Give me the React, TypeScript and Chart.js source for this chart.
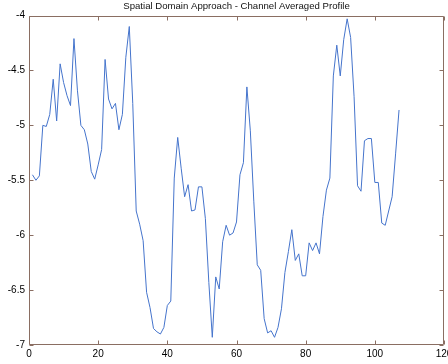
import React, { useEffect, useRef } from "react";
import { Chart, registerables } from "chart.js";

Chart.register(...registerables);

const TITLE = "Spatial Domain Approach - Channel Averaged Profile";

const sampleIndex = [
  1, 2, 3, 4, 5, 6, 7, 8, 9, 10, 11, 12, 13, 14, 15, 16, 17, 18, 19, 20,
  21, 22, 23, 24, 25, 26, 27, 28, 29, 30, 31, 32, 33, 34, 35, 36, 37, 38, 39, 40,
  41, 42, 43, 44, 45, 46, 47, 48, 49, 50, 51, 52, 53, 54, 55, 56, 57, 58, 59, 60,
  61, 62, 63, 64, 65, 66, 67, 68, 69, 70, 71, 72, 73, 74, 75, 76, 77, 78, 79, 80,
  81, 82, 83, 84, 85, 86, 87, 88, 89, 90, 91, 92, 93, 94, 95, 96, 97, 98, 99, 100,
  101, 102, 103, 104, 105, 106, 107,
];

const profileValues = [
  -5.45, -5.5, -5.46, -5.0, -5.01, -4.9, -4.58, -4.96, -4.44, -4.61,
  -4.73, -4.82, -4.21, -4.68, -5.0, -5.04, -5.17, -5.42, -5.49, -5.36,
  -5.22, -4.4, -4.76, -4.85, -4.8, -5.04, -4.9, -4.38, -4.1, -4.8,
  -5.78, -5.9, -6.05, -6.52, -6.66, -6.85, -6.88, -6.9, -6.84, -6.64,
  -6.6, -5.48, -5.11, -5.39, -5.65, -5.54, -5.78, -5.77, -5.56, -5.56,
  -5.85, -6.43, -6.93, -6.38, -6.49, -6.06, -5.91, -6.0, -5.98, -5.88,
  -5.45, -5.34, -4.65, -5.05, -5.69, -6.27, -6.32, -6.76, -6.89, -6.87,
  -6.93, -6.84, -6.67, -6.34, -6.15, -5.95, -6.23, -6.17, -6.37, -6.37,
  -6.07, -6.14, -6.07, -6.17, -5.83, -5.59, -5.48, -4.55, -4.27, -4.55,
  -4.22, -4.03, -4.2, -4.74, -5.55, -5.6, -5.14, -5.12, -5.12, -5.52,
  -5.52, -5.89, -5.91, -5.78, -5.65, -5.26, -4.86,
];

const xTickValues = [0, 20, 40, 60, 80, 100, 120];
const yTickValues = [-7, -6.5, -6, -5.5, -5, -4.5, -4];

const AXIS_COLOR = "#8a6e62";
const LINE_COLOR = "#4574cc";
const FONT = "'Liberation Sans', Arial, Helvetica, sans-serif";

const boxPlugin = {
  id: "matlabBox",
  afterDraw(chart: any) {
    const { ctx, chartArea: a, scales } = chart;
    const tl = 4;
    ctx.save();
    ctx.strokeStyle = AXIS_COLOR;
    ctx.lineWidth = 1;
    const L = Math.round(a.left) + 0.5;
    const R = Math.round(a.right) - 0.5;
    const T = Math.round(a.top) + 0.5;
    const B = Math.round(a.bottom) - 0.5;
    ctx.beginPath();
    ctx.rect(L, T, R - L, B - T);
    scales.x.ticks.forEach((t: any) => {
      const px = Math.round(scales.x.getPixelForValue(t.value)) + 0.5;
      ctx.moveTo(px, B);
      ctx.lineTo(px, B - tl);
      ctx.moveTo(px, T);
      ctx.lineTo(px, T + tl);
    });
    scales.y.ticks.forEach((t: any) => {
      const py = Math.round(scales.y.getPixelForValue(t.value)) + 0.5;
      ctx.moveTo(L, py);
      ctx.lineTo(L + tl, py);
      ctx.moveTo(R, py);
      ctx.lineTo(R - tl, py);
    });
    ctx.stroke();
    ctx.restore();
  },
};

export default function App() {
  const canvasRef = useRef<HTMLCanvasElement | null>(null);

  useEffect(() => {
    const canvas = canvasRef.current;
    if (!canvas) return;
    const points = sampleIndex.map((x, i) => ({ x, y: profileValues[i] }));
    const chart = new Chart(canvas, {
      type: "line",
      data: {
        datasets: [
          {
            data: points,
            borderColor: LINE_COLOR,
            borderWidth: 1,
            pointRadius: 0,
            tension: 0,
            fill: false,
          },
        ],
      },
      options: {
        responsive: false,
        animation: false,
        layout: { padding: { left: 0, right: 4, top: 0, bottom: 0 } },
        plugins: {
          legend: { display: false },
          tooltip: { enabled: false },
          title: {
            display: true,
            text: TITLE,
            fullSize: false,
            color: "#111",
            font: { family: FONT, size: 9.6, weight: "normal" },
            padding: { top: 1, bottom: 3 },
          },
        },
        scales: {
          x: {
            type: "linear",
            min: 0,
            max: 120,
            afterBuildTicks: (s: any) => {
              s.ticks = xTickValues.map((v) => ({ value: v }));
            },
            afterFit: (s: any) => {
              s.height = 19;
              s.paddingLeft = 0;
              s.paddingRight = 0;
            },
            grid: { display: false, drawTicks: false },
            border: { display: false },
            ticks: {
              color: "#000",
              padding: 3,
              maxRotation: 0,
              autoSkip: false,
              font: { family: FONT, size: 10 },
              callback: (v: any) => String(v),
            },
          },
          y: {
            type: "linear",
            min: -7,
            max: -4,
            afterBuildTicks: (s: any) => {
              s.ticks = yTickValues.map((v) => ({ value: v }));
            },
            afterFit: (s: any) => {
              s.width = 29;
              s.paddingTop = 0;
              s.paddingBottom = 0;
            },
            grid: { display: false, drawTicks: false },
            border: { display: false },
            ticks: {
              color: "#000",
              padding: 4,
              autoSkip: false,
              font: { family: FONT, size: 10 },
              callback: (v: any) => String(v),
            },
          },
        },
      },
      plugins: [boxPlugin],
    });
    return () => chart.destroy();
  }, []);

  return (
    <div
      style={{
        position: "absolute",
        left: 0,
        top: 0,
        width: 448,
        height: 364,
        background: "#ffffff",
      }}
    >
      <canvas ref={canvasRef} width={448} height={364} />
    </div>
  );
}
